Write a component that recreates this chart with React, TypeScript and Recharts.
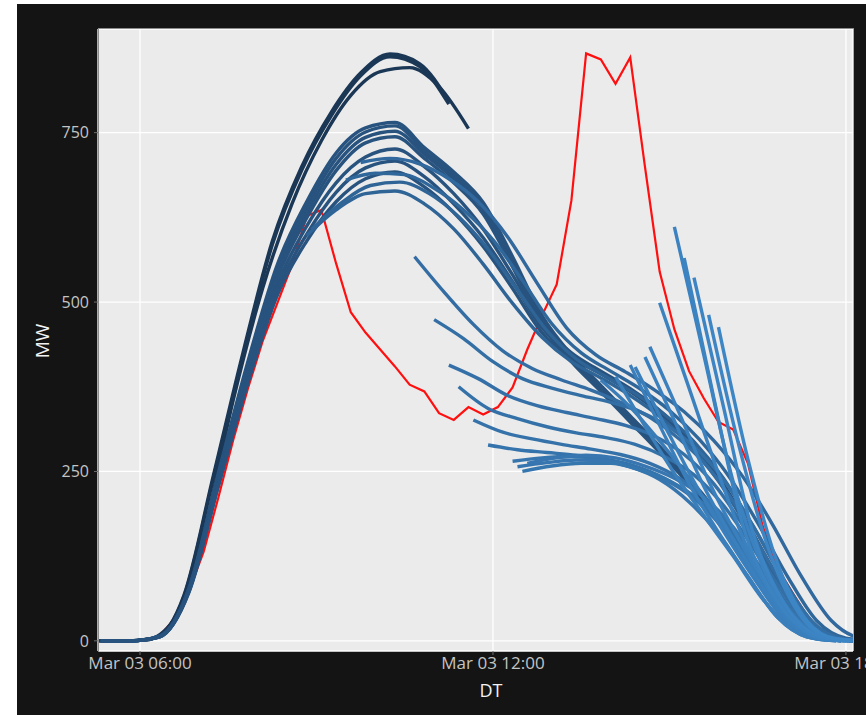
import { LineChart, Line, XAxis, YAxis, CartesianGrid } from 'recharts';

// measured output (15 min steps)
const actualStart = '05:20';
const actualMW = [
    0, 0, 0, 0, 7, 32, 74, 132, 212, 296, 372, 442, 498, 555, 627, 636,
    557, 485, 455, 430, 405, 378, 368, 336, 326, 345, 334, 345, 374, 430, 480, 526,
    650, 867, 858, 822, 861, 700, 545, 460, 398, 358, 323, 312, 262, 170, 108, 72,
    38, 10, 1, 0,
];

// forecast runs, values every 30 min from their start
const earlyStarts = ['05:15', '05:15', '05:35'];
const earlyMW = [
    [0, 0, 4, 68, 245, 425, 590, 700, 780, 838, 866, 852, 796],
    [0, 0, 4, 66, 241, 420, 585, 695, 775, 834, 862, 848, 792],
    [0, 1, 32, 160, 355, 520, 645, 738, 805, 840, 846, 818, 756],
];

const runStarts = [
    '05:20', '05:20', '05:20', '05:20', '05:20', '05:20', '05:20',
    '08:50', '08:55', '09:30', '09:45',
    '10:40', '11:00', '11:15', '11:25', '11:40', '11:55',
    '12:20', '12:25', '12:30', '12:35',
    '13:50', '14:05', '14:20', '14:25', '14:35', '14:40', '14:50',
    '15:05', '15:15', '15:25', '15:40', '15:50',
];
const runMW = [
    [0, 0, 7, 78, 248, 412, 555, 648, 720, 757, 765, 728, 692, 647, 567, 480, 422, 377, 332, 287, 240, 187, 127, 66, 21, 2, 0],
    [0, 0, 7, 77, 245, 408, 549, 640, 712, 751, 760, 723, 687, 642, 562, 476, 418, 374, 329, 284, 237, 184, 124, 64, 20, 2, 0],
    [0, 0, 7, 76, 242, 404, 543, 632, 703, 743, 752, 718, 682, 637, 557, 472, 415, 371, 326, 281, 234, 181, 121, 62, 19, 2, 0],
    [0, 0, 6, 75, 239, 399, 536, 624, 694, 735, 744, 712, 676, 630, 552, 468, 412, 368, 323, 278, 231, 178, 118, 60, 18, 2, 0],
    [0, 0, 6, 74, 235, 392, 526, 612, 676, 714, 726, 700, 660, 608, 540, 468, 425, 398, 372, 340, 298, 242, 172, 95, 30, 4, 0],
    [0, 0, 6, 73, 231, 386, 518, 600, 662, 698, 708, 685, 645, 595, 530, 462, 422, 396, 370, 338, 296, 240, 170, 93, 29, 4, 0],
    [0, 0, 6, 72, 228, 380, 510, 590, 648, 682, 692, 670, 632, 582, 520, 455, 418, 394, 368, 336, 294, 238, 168, 92, 28, 4, 0],
    [598, 636, 660, 664, 645, 608, 556, 498, 448, 412, 388, 362, 331, 290, 236, 166, 90, 27, 4, 0],
    [607, 646, 672, 677, 660, 626, 578, 518, 458, 416, 390, 365, 334, 294, 240, 170, 94, 29, 4, 0],
    [680, 690, 688, 668, 636, 592, 532, 468, 425, 398, 372, 340, 298, 244, 174, 96, 30, 4, 0],
    [706, 712, 704, 682, 648, 596, 528, 462, 422, 397, 370, 338, 296, 242, 172, 94, 30, 4, 0],
    [567, 515, 467, 428, 402, 385, 370, 352, 330, 298, 255, 195, 120, 50, 10, 0],
    [474, 446, 412, 387, 373, 362, 352, 338, 315, 280, 228, 158, 80, 22, 1],
    [407, 387, 362, 347, 337, 328, 318, 302, 275, 232, 170, 95, 35, 4, 0],
    [375, 343, 328, 316, 307, 300, 290, 272, 245, 200, 138, 65, 15, 1],
    [326, 308, 298, 290, 283, 275, 262, 240, 205, 150, 85, 30, 3, 0],
    [289, 282, 278, 274, 268, 258, 240, 212, 170, 110, 45, 10, 0],
    [265, 270, 272, 268, 257, 238, 205, 158, 95, 35, 6, 0],
    [257, 263, 267, 265, 255, 238, 210, 165, 100, 40, 8, 0],
    [250, 258, 262, 262, 252, 236, 208, 162, 98, 38, 7, 0],
    [262, 270, 274, 270, 258, 240, 212, 168, 104, 42, 9, 0],
    [385, 345, 295, 240, 180, 118, 62, 20, 2, 0],
    [390, 317, 247, 185, 125, 62, 18, 2, 0],
    [407, 318, 232, 160, 95, 35, 6, 0],
    [404, 318, 235, 162, 95, 35, 6, 0],
    [419, 325, 228, 150, 80, 25, 3, 0],
    [434, 336, 236, 152, 80, 25, 3, 0],
    [499, 373, 247, 135, 55, 12, 1, 0],
    [611, 422, 235, 110, 35, 4, 0],
    [565, 360, 170, 70, 18, 1, 0],
    [536, 346, 160, 60, 12, 0],
    [481, 293, 140, 45, 6, 0],
    [463, 268, 115, 30, 3, 0],
];

const xTicks = [6, 12, 18];
const yTicks = [0, 250, 500, 750];

const toHours = (s: string) => {
    const [h, m] = s.split(':').map(Number);
    return h + m / 60;
};

const toPoints = (start: string, values: number[], step: number) =>
    values.map((v, i) => ({ t: toHours(start) + i * step, v }));

const fmtTime = (t: number) => `Mar 03 ${String(Math.round(t)).padStart(2, '0')}:00`;

// ggplot-ish blue ramp, darker for earlier runs
const mix = (a: number[], b: number[], f: number) =>
    `rgb(${a.map((c, i) => Math.round(c + (b[i] - c) * f)).join(',')})`;
const runColor = (start: string) => {
    const f = (toHours(start) - 5.33) / (15.83 - 5.33);
    return mix([40, 83, 127], [61, 134, 198], Math.max(0, Math.min(1, f)));
};

const font = 'Open Sans';

export default function App() {
    return (
        <div style={{ position: 'absolute', left: 0, top: 0, width: 866, height: 715, background: '#fff' }}>
            <div style={{ position: 'absolute', left: 17, top: 4, width: 849, height: 711, background: '#141414', overflow: 'hidden' }}>
                <LineChart width={849} height={711} margin={{ top: 25, right: 13, bottom: 0, left: 0 }}>
                    <CartesianGrid fill="#ebebeb" stroke="#ffffff" strokeWidth={1.3} />
                    <XAxis
                        type="number"
                        dataKey="t"
                        domain={[5.286, 18.12]}
                        allowDataOverflow
                        ticks={xTicks}
                        interval={0}
                        tickFormatter={fmtTime}
                        height={64}
                        tick={{ fill: '#c4c4c4', fontSize: 17, fontFamily: font }}
                        tickSize={4}
                        tickMargin={2}
                        tickLine={{ stroke: '#6e6e6e' }}
                        axisLine={false}
                    />
                    <YAxis
                        type="number"
                        domain={[-15, 903]}
                        allowDataOverflow
                        ticks={yTicks}
                        interval={0}
                        width={81}
                        tick={{ fill: '#c4c4c4', fontSize: 16, fontFamily: font }}
                        tickSize={4}
                        tickMargin={5}
                        tickLine={{ stroke: '#6e6e6e' }}
                        axisLine={false}
                    />
                    <Line
                        data={toPoints(actualStart, actualMW, 0.25)}
                        dataKey="v"
                        type="linear"
                        stroke="#ff0f0f"
                        strokeWidth={2.2}
                        dot={false}
                        isAnimationActive={false}
                    />
                    {earlyMW.map((vals, i) => (
                        <Line
                            key={`e${i}`}
                            data={toPoints(earlyStarts[i], vals, 0.5)}
                            dataKey="v"
                            type="monotone"
                            stroke="#1b3756"
                            strokeWidth={3.4}
                            dot={false}
                            isAnimationActive={false}
                        />
                    ))}
                    {runMW.map((vals, i) => (
                        <Line
                            key={`r${i}`}
                            data={toPoints(runStarts[i], vals, 0.5)}
                            dataKey="v"
                            type="monotone"
                            stroke={runColor(runStarts[i])}
                            strokeWidth={3.4}
                            dot={false}
                            isAnimationActive={false}
                        />
                    ))}
                </LineChart>
                {/* panel edge */}
                <div style={{ position: 'absolute', left: 81, top: 24, width: 755, height: 623, borderTop: '1px solid #8c8c8c', borderLeft: '1px solid #8c8c8c', pointerEvents: 'none' }} />
                <div style={{ position: 'absolute', left: 474, top: 686, transform: 'translate(-50%, -50%)', color: '#f2f2f2', fontFamily: font, fontSize: 18 }}>
                    DT
                </div>
                <div style={{ position: 'absolute', left: 25, top: 337, transform: 'translate(-50%, -50%) rotate(-90deg)', color: '#f2f2f2', fontFamily: font, fontSize: 19 }}>
                    MW
                </div>
            </div>
        </div>
    );
}
